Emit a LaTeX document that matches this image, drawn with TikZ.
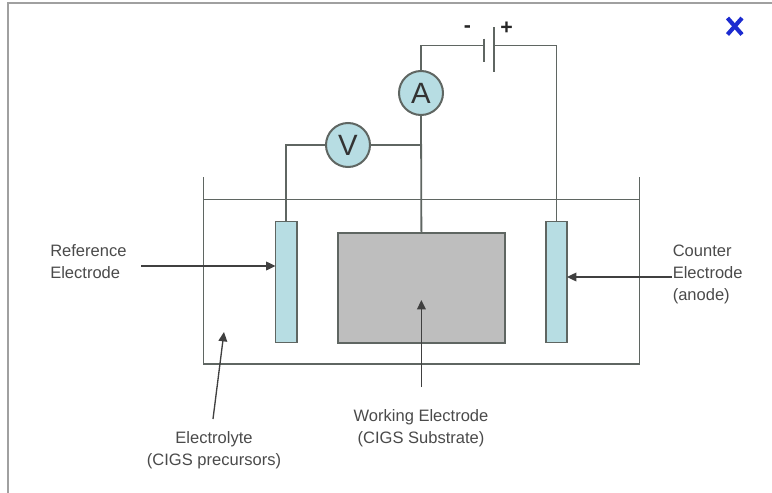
\documentclass[tikz,border=0pt]{standalone}
\usepackage{fontspec}
\setmainfont{Liberation Sans}
\usetikzlibrary{arrows.meta}
\definecolor{wire}{HTML}{5F6662}
\definecolor{cyanfill}{HTML}{B7DDE3}
\definecolor{plate}{HTML}{BEBEBE}
\definecolor{labeltext}{HTML}{4A4A4A}
\definecolor{framegray}{HTML}{A0A0A0}
\definecolor{closeblue}{HTML}{1C2BD0}
\tikzset{
  wireline/.style={draw=wire,line width=1.35pt},
  electrode/.style={wireline,fill=cyanfill,minimum width=16.1pt,minimum height=90.75pt,inner sep=0pt},
  substrate/.style={wireline,fill=plate,minimum width=125pt,minimum height=82.5pt,inner sep=0pt},
  meter/.style={circle,wireline,line width=1.5pt,fill=cyanfill,minimum size=33pt,inner sep=0pt,text=black!80,font=\fontsize{22}{24}\selectfont},
  pointer/.style={draw=black!75,line width=1pt,-{Triangle[length=7pt,width=6.5pt]},shorten >=0pt},
  caption/.style={text=labeltext,font=\fontsize{12.4}{16.5}\selectfont,inner sep=0pt},
  sign/.style={text=black!85,inner sep=0pt,font=\bfseries\fontsize{16}{18}\selectfont}
}
\begin{document}
\begin{tikzpicture}[x=0.75pt,y=-0.75pt]
\useasboundingbox (0,0) rectangle (772,493);
% page frame
\draw[framegray,line width=1.5pt] (8,493) -- (8,2.5) -- (772,2.5);
% close mark
\draw[closeblue,line width=3.1pt] (727.5,18) -- (742,34.5) (742,18) -- (727.5,34.5);
% tank
\coordinate (tankTL) at (203.5,177);
\coordinate (tankBL) at (203.5,364);
\coordinate (tankBR) at (639.5,364);
\coordinate (tankTR) at (639.5,177);
\coordinate (waterL) at (203.5,199.5);
\coordinate (waterR) at (639.5,199.5);
\draw[wireline] (tankTL) -- (tankBL) -- (tankBR) -- (tankTR);
\draw[wireline] (waterL) -- (waterR);
% electrodes
\node[electrode] (ref) at (286.25,282) {};
\node[electrode] (cnt) at (556.5,282) {};
\node[substrate] (work) at (421.4,288) {};
% meters
\node[meter] (A) at (421,93) {A};
\node[meter] (V) at (348,145) {V};
% battery
\coordinate (negTop) at (483.7,38.5);
\coordinate (negBot) at (483.7,61.5);
\coordinate (posTop) at (494,27);
\coordinate (posBot) at (494,72);
\coordinate (neg) at (483.7,45.5);
\coordinate (pos) at (494,45.5);
\coordinate (junction) at (421.4,145);
\draw[wireline] (negTop) -- (negBot);
\draw[wireline] (posTop) -- (posBot);
\node[sign] (minus) at (467.5,29.5) {-};
\node[sign] (plus) at (506.5,28.5) {+};
% wires
\draw[wireline] (A.north) |- (neg);
\draw[wireline] (pos) -| (cnt.north);
\draw[wireline] (A.south) -- (work.north);
\draw[wireline] (V.east) -- (junction);
\draw[wireline] (V.west) -| (ref.north);
% labels
\node[caption,align=left,anchor=north west] (refL) at (50,244) {Reference\\Electrode};
\node[caption,align=left,anchor=north west] (cntL) at (672.5,244.5) {Counter\\Electrode\\(anode)};
\node[caption,align=center,anchor=north] (workL) at (421,409) {Working Electrode\\(CIGS Substrate)};
\node[caption,align=center,anchor=north] (elecL) at (214,431) {Electrolyte\\(CIGS precursors)};
% pointers
\coordinate (refS) at (141,266);
\coordinate (cntS) at (672,277);
\coordinate (cntE) at (567,277);
\coordinate (refE) at (275.5,266);
\coordinate (workS) at (421.4,387);
\coordinate (workE) at (421.4,300);
\coordinate (elecS) at (213,419);
\coordinate (elecE) at (224,332);
\draw[pointer] (refS) -- (refE);
\draw[pointer] (cntS) -- (cntE);
\draw[pointer] (workS) -- (workE);
\draw[pointer] (elecS) -- (elecE);
\end{tikzpicture}
\end{document}
